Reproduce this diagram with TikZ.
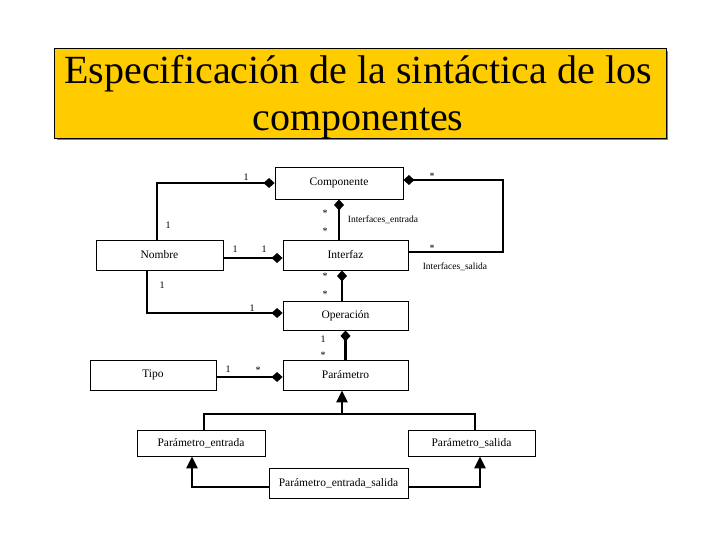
\documentclass[tikz,border=0pt]{standalone}
\usepackage{fontspec}
\setmainfont{Liberation Serif}
\usetikzlibrary{arrows.meta}
\definecolor{titleyellow}{HTML}{FFCC00}
\definecolor{shadowgray}{HTML}{808080}
\tikzset{
  cls/.style={draw=black, line width=0.9pt, fill=white, inner sep=0pt, font=\fontsize{11.5}{13}\selectfont},
  assoc/.style={line width=2.6pt, -{Diamond[length=11pt,width=10pt]}},
  assocr/.style={line width=2.6pt, {Diamond[length=11pt,width=10pt]}-},
  gen/.style={line width=2.6pt, -{Triangle[length=12pt,width=11pt]}},
  thinline/.style={line width=1.1pt},
  mult/.style={font=\fontsize{10}{11}\selectfont, inner sep=0pt},
  rolelbl/.style={font=\fontsize{9.5}{11}\selectfont, inner sep=0pt},
}
\begin{document}
\begin{tikzpicture}[x=1pt,y=-1pt]
\useasboundingbox (0,0) rectangle (720,540);
% title
\fill[shadowgray] (57,51) rectangle (668,140);
\node[draw=black, line width=0.9pt, fill=titleyellow, minimum width=612pt, minimum height=90pt, inner sep=0pt] (title) at (360,93) {};
\node[font=\fontsize{40}{47}\selectfont, align=center, inner sep=0pt] (titletext) at (358,97) {Especificación de la sintáctica de los\\componentes};
% classes
\node[cls, minimum width=128pt, minimum height=32pt] (comp) at (339,183) {Componente};
\node[cls, minimum width=127pt, minimum height=30pt] (nombre) at (159.5,255) {Nombre};
\node[cls, minimum width=125pt, minimum height=30pt] (interfaz) at (345.5,255) {Interfaz};
\node[cls, minimum width=125pt, minimum height=29pt] (oper) at (345.5,315.5) {Operación};
\node[cls, minimum width=126pt, minimum height=30pt] (tipo) at (153,375) {Tipo};
\node[cls, minimum width=125pt, minimum height=30pt] (param) at (345.5,375) {Parámetro};
\node[cls, minimum width=128pt, minimum height=26pt] (pent) at (201,443) {Parámetro\_entrada};
\node[cls, minimum width=127pt, minimum height=26pt] (psal) at (471.5,443) {Parámetro\_salida};
\node[cls, minimum width=139pt, minimum height=30pt] (pes) at (338.5,483) {Parámetro\_entrada\_salida};
% associations
\draw[assoc] ([xshift=-2.5pt]nombre.north) |- (comp.west);
\coordinate (cr) at (503,180);
\draw[assoc] ([yshift=3pt]interfaz.east) -| (cr) -- ([yshift=3pt]comp.east);
\draw[assocr] (comp.south) -- (comp.south |- interfaz.north);
\draw[assoc] ([yshift=-3pt]nombre.east) -- ([yshift=-3pt]interfaz.west);
\draw[assoc] ([xshift=-12.5pt]nombre.south) |- ([yshift=2.5pt]oper.west);
\draw[assocr] ([xshift=-3.5pt]interfaz.south) -- ([xshift=-3.5pt]oper.north);
\draw[assocr] (oper.south) -- (oper.south |- param.north);
\draw[assoc] ([yshift=-2pt]tipo.east) -- ([yshift=-2pt]param.west);
% generalisation
\coordinate (j) at (342,414);
\draw[thinline] ([xshift=3pt]pent.north) |- (j);
\draw[thinline] (j) -| ([xshift=3.5pt]psal.north);
\draw[gen] (j) -- (j |- param.south);
\draw[gen] ([yshift=-4pt]pes.west) -| ([xshift=-9pt]pent.south);
\draw[gen] ([yshift=-4pt]pes.east) -| ([xshift=8.5pt]psal.south);
% multiplicities
\node[mult] (m1) at (246,177) {1};
\node[mult] (m2) at (168,225) {1};
\node[mult] (m3) at (432,176) {*};
\node[mult] (m4) at (432,248) {*};
\node[mult] (m5) at (325,213) {*};
\node[mult] (m6) at (325,231) {*};
\node[mult] (m7) at (235,249) {1};
\node[mult] (m8) at (264,249) {1};
\node[mult] (m9) at (162,285) {1};
\node[mult] (m10) at (252,308) {1};
\node[mult] (m11) at (325,276) {*};
\node[mult] (m12) at (325,294) {*};
\node[mult] (m13) at (323,339) {1};
\node[mult] (m14) at (323,355) {*};
\node[mult] (m15) at (228,369) {1};
\node[mult] (m16) at (258,370) {*};
\node[rolelbl] (r1) at (383,220) {Interfaces\_entrada};
\node[rolelbl] (r2) at (455,267) {Interfaces\_salida};
\end{tikzpicture}
\end{document}
